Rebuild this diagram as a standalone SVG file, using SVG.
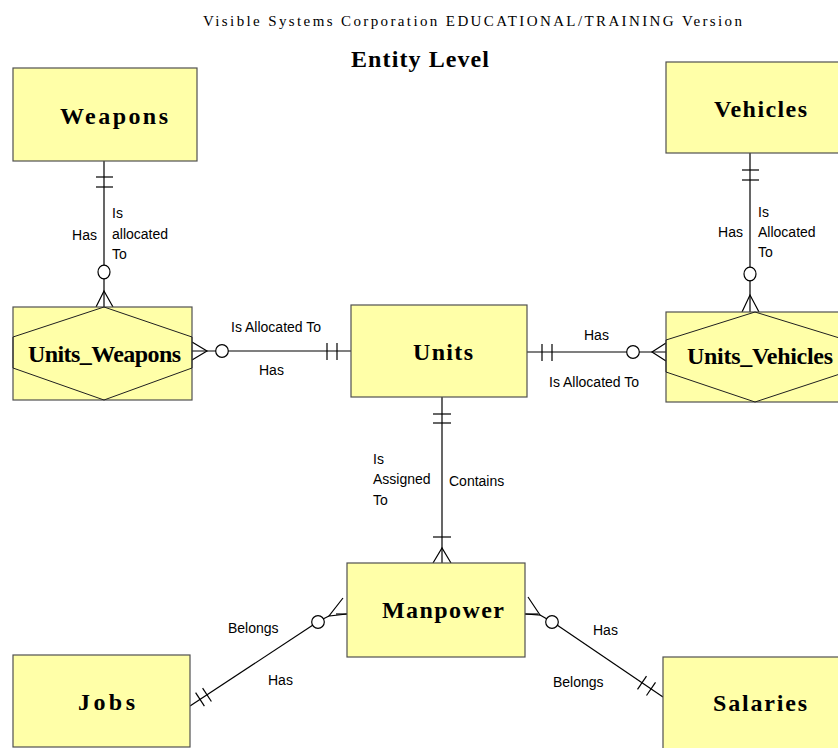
<svg xmlns="http://www.w3.org/2000/svg" width="838" height="748" viewBox="0 0 838 748">
<style>
.box{fill:#ffffa8;stroke:#505050;stroke-width:1.2}
.hex{fill:none;stroke:#202020;stroke-width:1}
.ln{fill:none;stroke:#000;stroke-width:1.2}
.cir{fill:#fff;stroke:#000;stroke-width:1.2}
.ent{font-family:"Liberation Serif","Times New Roman",serif;font-weight:bold;font-size:24px;fill:#000;text-anchor:middle}
.lbl{font-family:"Liberation Sans",Arial,sans-serif;font-size:14px;fill:#000}
.ttl{font-family:"Liberation Serif","Times New Roman",serif;font-size:15px;fill:#000}
</style>
<rect width="838" height="748" fill="#fff"/>
<text class="ttl" x="203" y="26" textLength="539" lengthAdjust="spacing">Visible Systems Corporation EDUCATIONAL/TRAINING Version</text>
<text class="ent" x="420" y="67" font-size="23" textLength="138" lengthAdjust="spacing">Entity Level</text>

<g id="connectors">
  <line class="ln" x1="104" y1="161" x2="104" y2="307"/>
  <line class="ln" x1="96" y1="177" x2="113" y2="177"/>
  <line class="ln" x1="96" y1="187" x2="113" y2="187"/>
  <ellipse class="cir" cx="104" cy="272" rx="6" ry="6.8"/>
  <polyline class="ln" points="96,307 104,291 113,307"/>
  <line class="ln" x1="750" y1="153" x2="750" y2="312"/>
  <line class="ln" x1="742" y1="170" x2="759" y2="170"/>
  <line class="ln" x1="742" y1="180" x2="759" y2="180"/>
  <ellipse class="cir" cx="750" cy="274" rx="6" ry="6.8"/>
  <polyline class="ln" points="742,312 750,295 759,312"/>
  <line class="ln" x1="192" y1="351" x2="351" y2="351"/>
  <polyline class="ln" points="192,342 207,351 192,360"/>
  <circle class="cir" cx="222" cy="351" r="6.3"/>
  <line class="ln" x1="327" y1="343" x2="327" y2="360"/>
  <line class="ln" x1="337" y1="343" x2="337" y2="360"/>
  <line class="ln" x1="527" y1="352" x2="666" y2="352"/>
  <line class="ln" x1="542" y1="344" x2="542" y2="361"/>
  <line class="ln" x1="552" y1="344" x2="552" y2="361"/>
  <circle class="cir" cx="633" cy="352" r="6.3"/>
  <polyline class="ln" points="666,343 652,352 666,361"/>
  <line class="ln" x1="442" y1="397" x2="442" y2="563"/>
  <line class="ln" x1="433" y1="414" x2="451" y2="414"/>
  <line class="ln" x1="433" y1="423" x2="451" y2="423"/>
  <line class="ln" x1="433" y1="537" x2="451" y2="537"/>
  <polyline class="ln" points="433,563 442,548 451,563"/>
  <line class="ln" x1="190" y1="706" x2="313" y2="625"/>
  <line class="ln" x1="195.6" y1="692.7" x2="204.4" y2="706.1"/>
  <line class="ln" x1="202.6" y1="688.1" x2="211.4" y2="701.5"/>
  <circle class="cir" cx="318" cy="622" r="6.3"/>
  <line class="ln" x1="323" y1="619" x2="329" y2="616"/>
  <polyline class="ln" points="343,598 329,616 347,614"/>
  <line class="ln" x1="336" y1="614" x2="347" y2="614"/>
  <line class="ln" x1="557" y1="625" x2="663" y2="697"/>
  <line class="ln" x1="646.5" y1="676.2" x2="637.5" y2="689.4"/>
  <line class="ln" x1="655.5" y1="682.3" x2="646.5" y2="695.5"/>
  <circle class="cir" cx="552" cy="622" r="6.3"/>
  <line class="ln" x1="540" y1="615" x2="547" y2="619"/>
  <polyline class="ln" points="528,597 540,615 525,614"/>
  <line class="ln" x1="525" y1="614" x2="538" y2="614"/>
</g>

<g id="labels">
  <text class="lbl" x="97" y="240" text-anchor="end">Has</text>
  <text class="lbl" x="112" y="218">Is</text>
  <text class="lbl" x="112" y="239">allocated</text>
  <text class="lbl" x="112" y="259">To</text>
  <text class="lbl" x="743" y="237" text-anchor="end">Has</text>
  <text class="lbl" x="758" y="217">Is</text>
  <text class="lbl" x="758" y="237">Allocated</text>
  <text class="lbl" x="758" y="257">To</text>
  <text class="lbl" x="231" y="332">Is Allocated To</text>
  <text class="lbl" x="259" y="375">Has</text>
  <text class="lbl" x="584" y="340">Has</text>
  <text class="lbl" x="549" y="387">Is Allocated To</text>
  <text class="lbl" x="373" y="464">Is</text>
  <text class="lbl" x="373" y="484">Assigned</text>
  <text class="lbl" x="373" y="505">To</text>
  <text class="lbl" x="449" y="486">Contains</text>
  <text class="lbl" x="228" y="633">Belongs</text>
  <text class="lbl" x="268" y="685">Has</text>
  <text class="lbl" x="593" y="635">Has</text>
  <text class="lbl" x="553" y="687">Belongs</text>
</g>

<g id="weapons">
  <rect class="box" x="13" y="68" width="184" height="93"/>
  <text class="ent" x="114" y="124" textLength="108" lengthAdjust="spacing">Weapons</text>
</g>
<g id="vehicles">
  <rect class="box" x="666" y="62" width="180" height="91"/>
  <text class="ent" x="760.5" y="117" textLength="93" lengthAdjust="spacing">Vehicles</text>
</g>
<g id="units_weapons">
  <rect class="box" x="13" y="307" width="179" height="93"/>
  <polygon class="hex" points="104,307 192,337 192,368 104,400 13,368 13,337"/>
  <text class="ent" x="104.5" y="362" font-size="22" textLength="153" lengthAdjust="spacing">Units_Weapons</text>
</g>
<g id="units">
  <rect class="box" x="351" y="305" width="176" height="92"/>
  <text class="ent" x="443" y="360" textLength="60" lengthAdjust="spacing">Units</text>
</g>
<g id="units_vehicles">
  <rect class="box" x="666" y="312" width="180" height="90"/>
  <polygon class="hex" points="755,312 846,340 846,372 755,402 666,372 666,340"/>
  <text class="ent" x="760" y="364" font-size="22" textLength="146" lengthAdjust="spacing">Units_Vehicles</text>
</g>
<g id="manpower">
  <rect class="box" x="347" y="563" width="178" height="94"/>
  <text class="ent" x="443" y="618" textLength="122" lengthAdjust="spacing">Manpower</text>
</g>
<g id="jobs">
  <rect class="box" x="13" y="655" width="177" height="92"/>
  <text class="ent" x="106.5" y="710" textLength="57" lengthAdjust="spacing">Jobs</text>
</g>
<g id="salaries">
  <rect class="box" x="663" y="657" width="180" height="95"/>
  <text class="ent" x="760" y="711" textLength="94" lengthAdjust="spacing">Salaries</text>
</g>
</svg>
